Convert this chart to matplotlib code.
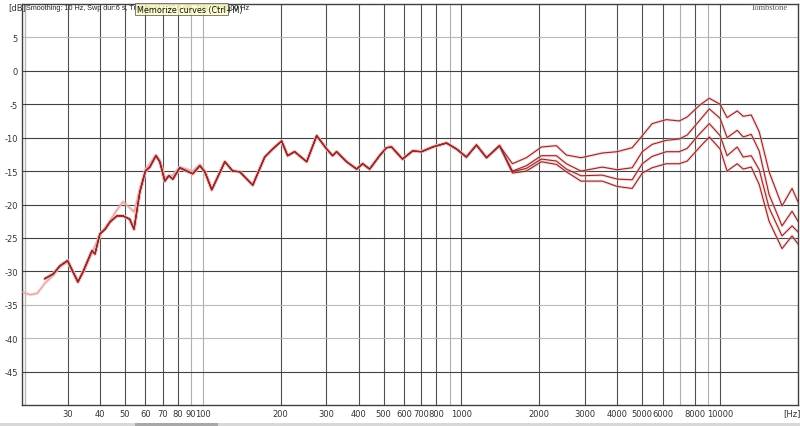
import matplotlib
matplotlib.use("Agg")
import matplotlib.pyplot as plt
from matplotlib.patches import Rectangle

# ---------------- data ----------------
# shared part of the four measured curves (Hz, dB)
base_f = [24.5, 26.4, 28.0, 30.0, 31.5, 32.9, 34.4, 37.3, 38.3, 40.0, 41.9, 43.8,
          46.6, 49.1, 52.2, 54.2, 57.1, 60.0, 62.4, 65.9, 68.2, 71.3, 73.9, 76.6,
          81.5, 86.7, 91.5, 97.4, 101.8, 108.3, 121.7, 130.6, 138.9, 156.0, 173.5,
          186.2, 201.7, 212.8, 226.4, 252.2, 275.6, 301.2, 317.8, 329.0, 359.6,
          393.3, 414.9, 441.6, 482.4, 513.0, 537.0, 591.6, 647.0, 701.0, 773.0,
          875.0, 957.0, 1045.0, 1143.0, 1250.0, 1403.0]
base_db = [-31.1, -30.4, -29.2, -28.4, -30.1, -31.6, -30.1, -26.9, -27.4, -24.4, -23.7, -22.6,
           -21.7, -21.7, -22.2, -23.7, -18.1, -15.0, -14.4, -12.7, -13.6, -16.5, -15.7, -16.2,
           -14.5, -15.0, -15.4, -14.2, -15.1, -17.8, -13.6, -15.0, -15.1, -17.1, -12.9,
           -11.7, -10.5, -12.7, -12.1, -13.6, -9.7, -11.7, -12.7, -12.1, -13.6,
           -14.7, -13.9, -14.7, -12.7, -11.5, -11.4, -13.2, -12.0, -12.1, -11.4,
           -10.8, -11.7, -12.9, -11.1, -13.0, -11.2]

# high-frequency parts where the four curves separate
hf_f = [1574, 1782, 2037, 2328, 2544, 2900, 3500, 4000, 4571, 5000, 5460, 6190,
        6950, 7460, 8300, 9080, 10000, 10640, 11640, 12280, 13190, 14160, 15460,
        17350, 18970, 20000]
curve_a = [-13.9, -13.0, -11.4, -11.2, -12.6, -13.0, -12.3, -12.1, -11.5, -9.7, -7.9, -7.3,
           -7.5, -6.9, -5.2, -4.1, -5.0, -7.0, -6.0, -6.8, -6.6, -9.1, -15.1,
           -20.2, -17.6, -19.6]
curve_b = [-15.0, -14.2, -12.7, -12.7, -13.9, -15.0, -14.4, -14.8, -14.5, -12.1, -11.0, -10.4,
           -10.2, -9.6, -7.5, -5.7, -7.1, -10.0, -8.9, -9.9, -9.5, -12.0, -18.5,
           -23.2, -21.0, -22.5]
curve_c = [-15.1, -14.6, -13.2, -13.5, -14.7, -15.7, -15.6, -16.2, -16.3, -13.9, -12.8, -12.1,
           -12.1, -11.6, -9.5, -7.9, -9.7, -12.7, -11.4, -12.9, -12.7, -14.8, -20.5,
           -24.7, -23.2, -24.1]
curve_d = [-15.3, -15.0, -13.6, -14.0, -15.1, -16.5, -16.5, -17.3, -17.6, -15.3, -14.5, -13.9,
           -13.9, -13.5, -11.5, -9.9, -11.7, -15.0, -13.9, -14.7, -14.4, -17.0, -22.5,
           -26.6, -24.7, -25.9]

# light memorized curve (low frequencies)
pink_f = [20.0, 21.5, 22.9, 24.5, 26.4, 28.0, 30.0, 31.5, 32.9, 34.4, 37.3, 40.0, 43.8,
          46.6, 49.1, 52.2, 54.2, 57.1, 60.0, 65.9, 68.2, 71.3, 76.6, 81.5, 91.5, 97.4,
          101.8, 108.3]
pink_db = [-33.1, -33.5, -33.3, -31.8, -30.6, -29.3, -28.6, -30.0, -31.4, -30.3, -27.2, -24.6, -22.4,
           -20.8, -19.6, -20.5, -21.1, -17.8, -14.8, -12.6, -13.4, -15.9, -15.6, -14.4, -15.0, -14.0,
           -15.0, -17.6]

x_ticks = [30, 40, 50, 60, 70, 80, 90, 100, 200, 300, 400, 500, 600, 700, 800, 1000,
           2000, 3000, 4000, 5000, 6000, 8000, 10000]
x_grid = [30, 40, 50, 60, 70, 80, 90, 100, 200, 300, 400, 500, 600, 700, 800, 900, 1000,
          2000, 3000, 4000, 5000, 6000, 7000, 8000, 9000, 10000]
x_grid_light = [90, 100, 900, 7000, 9000]
y_ticks = [5, 0, -5, -10, -15, -20, -25, -30, -35, -40, -45]
y_grid_light = [5, -35, -40]

header = "Smoothing: 10 Hz, Swp dur:6 s, Trig. level: -20.0 dB, Trig. freq:500 Hz"
tooltip = "Memorize curves (Ctrl+M)"

# ---------------- figure ----------------
plt.rcParams['font.family'] = ['DejaVu Sans']
fig = plt.figure(figsize=(8, 4.27), dpi=100)
fig.patch.set_facecolor('white')
ax = fig.add_axes([22/800, 21/427, 776/800, 401/427])
ax.set_xscale('log')
ax.set_xlim(20, 20000)
ax.set_ylim(-50, 10)

for g in x_grid:
    c = '#b0b0b0' if g in x_grid_light else '#505050'
    ax.axvline(g, color=c, lw=0.8, zorder=1)
ax.axvline(20.6, color='#b8b8b8', lw=1.0, zorder=1)
for g in y_ticks:
    c = '#b8b8b8' if g in y_grid_light else '#404040'
    ax.axhline(g, color=c, lw=0.8, zorder=1)

halo = dict(color='#f4b4b4', lw=2.4, alpha=0.45, zorder=2, solid_capstyle='round')
ax.plot(pink_f, pink_db, **halo)
ax.plot(pink_f, pink_db, color='#e7a3a3', lw=0.9, zorder=3)
for hf in (curve_a, curve_b, curve_c, curve_d):
    ax.plot(base_f + hf_f, base_db + hf, **halo)
for hf in (curve_a, curve_b, curve_c, curve_d):
    ax.plot(base_f + hf_f, base_db + hf, color='#8e2a2a', lw=0.8, zorder=4)

ax.set_xticks(x_ticks)
ax.set_xticklabels([str(t) for t in x_ticks])
ax.minorticks_off()
ax.set_yticks(y_ticks)
ax.set_yticklabels([str(t) for t in y_ticks])
ax.tick_params(axis='both', length=0, labelsize=6, colors='#333333', pad=3)
for s in ax.spines.values():
    s.set_color('#404040')
    s.set_linewidth(1.0)

fig.text(8/800, 1 - 8/427, "[dB]", fontsize=6, color='#333333', va='center', ha='left')
fig.text(792/800, 1 - 414/427, "[Hz]", fontsize=6, color='#333333', va='center', ha='center')
fig.text(26/800, 1 - 8/427, header, fontsize=5.2, color='#222222', va='center', ha='left',
         family=['Liberation Sans Narrow', 'Liberation Sans', 'DejaVu Sans'])
fig.text(788/800, 1 - 8/427, "Tombstone", fontsize=6, color='#555555', va='center', ha='right',
         family=['Liberation Serif', 'DejaVu Serif'])
# tooltip box (semi-transparent, header shows through as in the reference)
fig.patches.append(Rectangle((135/800, 1 - 16/427), 93/800, 12/427, transform=fig.transFigure,
                             facecolor='#ffffc8', edgecolor='#444444', lw=0.6, alpha=0.8,
                             zorder=10))
fig.text(137/800, 1 - 10/427, tooltip, fontsize=5.8, color='#111111', va='center', ha='left',
         zorder=11)
# bottom scroll strip
fig.patches.append(Rectangle((0, 0), 1, 3/427, transform=fig.transFigure,
                             facecolor='#d8d8d8', edgecolor='none'))
fig.patches.append(Rectangle((135/800, 0), 83/800, 3/427, transform=fig.transFigure,
                             facecolor='#a8a8a8', edgecolor='none'))

fig.savefig('out.png', dpi=100, facecolor='white')
